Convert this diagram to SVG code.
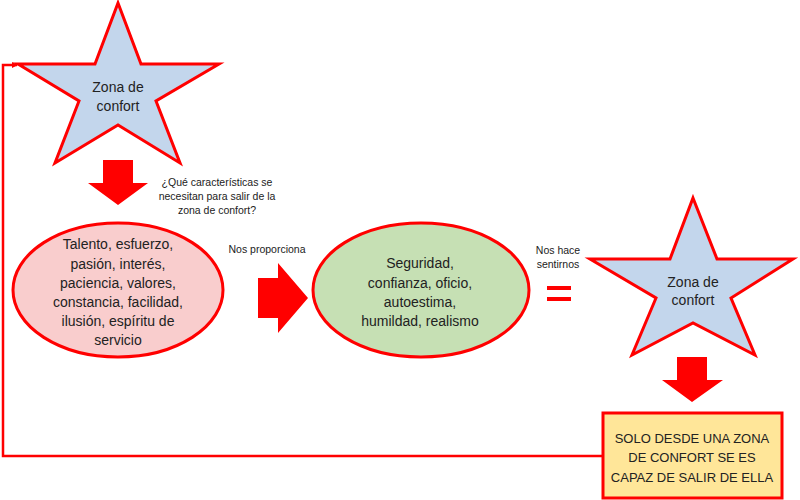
<svg xmlns="http://www.w3.org/2000/svg" width="800" height="500" viewBox="0 0 800 500">
<defs>
<style>
.star{fill:#C3D6EC;stroke:#FF0000;stroke-width:3;stroke-linejoin:miter}
.t{font-family:"Liberation Sans",Arial,sans-serif;fill:#222;text-anchor:middle}
.big{font-size:14px}
.boxt{font-size:13px}
.small{font-size:10.5px}
.arrow{fill:#FF0000}
.conn{fill:none;stroke:#FF0000;stroke-width:2.5}
</style>
<marker id="ah" markerWidth="6" markerHeight="6" refX="5" refY="3" orient="auto" markerUnits="userSpaceOnUse">
<path d="M0,0 L6,3 L0,6 z" fill="#FF0000"/>
</marker>
</defs>
<rect width="800" height="500" fill="#FFFFFF"/>
<g id="connectors">
<polyline class="conn" points="603,456 3,456 3,65 17,65" marker-end="url(#ah)"/>
<path id="arrow-down-1" class="arrow" d="M103,160 H133 V183 H148 L118,205 L88,183 H103 Z"/>
<path id="arrow-right" class="arrow" d="M258,278 H278 V263 L308,298 L278,333 V318 H258 Z"/>
<path id="arrow-down-2" class="arrow" d="M677,357 H707 V380 H723 L692,402 L662,380 H677 Z"/>
<g id="equals" class="arrow">
<rect x="547" y="286" width="24" height="4"/>
<rect x="547" y="297" width="24" height="4"/>
</g>
</g>
<g id="star1">
<polygon class="star" points="118,3 141,64 219,64 156,101 180,163 118,125 55,163 79,101 18,64 95,64"/>
<text class="t big" x="118" y="92">Zona de</text>
<text class="t big" x="118" y="111">confort</text>
</g>
<g id="question">
<text class="t small" x="217" y="186">¿Qué características se</text>
<text class="t small" x="217" y="200">necesitan para salir de la</text>
<text class="t small" x="217" y="214">zona de confort?</text>
</g>
<g id="ellipse1">
<ellipse cx="118" cy="290" rx="105" ry="67" fill="#F9CDCD" stroke="#FF0000" stroke-width="3"/>
<text class="t big" x="118" y="249">Talento, esfuerzo,</text>
<text class="t big" x="118" y="269">pasión, interés,</text>
<text class="t big" x="118" y="288">paciencia, valores,</text>
<text class="t big" x="118" y="307">constancia, facilidad,</text>
<text class="t big" x="118" y="326">ilusión, espíritu de</text>
<text class="t big" x="118" y="345">servicio</text>
</g>
<g id="label-proporciona">
<text class="t small" x="267" y="253">Nos proporciona</text>
</g>
<g id="ellipse2">
<ellipse cx="421" cy="290" rx="108" ry="67" fill="#C6E0B4" stroke="#FF0000" stroke-width="3"/>
<text class="t big" x="420" y="268">Seguridad,</text>
<text class="t big" x="420" y="288">confianza, oficio,</text>
<text class="t big" x="420" y="307">autoestima,</text>
<text class="t big" x="420" y="326">humildad, realismo</text>
</g>
<g id="label-sentirnos">
<text class="t small" x="558" y="254">Nos hace</text>
<text class="t small" x="558" y="268">sentirnos</text>
</g>
<g id="star2">
<polygon class="star" points="693,198 717,259 793,259 731,298 755,355 693,323 632,355 656,298 590,259 670,259"/>
<text class="t big" x="693" y="287">Zona de</text>
<text class="t big" x="693" y="305">confort</text>
</g>
<g id="box">
<rect x="603" y="413" width="179" height="85" fill="#FFE699" stroke="#FF0000" stroke-width="3"/>
<text class="t boxt" x="692" y="443">SOLO DESDE UNA ZONA</text>
<text class="t boxt" x="692" y="462">DE CONFORT SE ES</text>
<text class="t boxt" x="692" y="482">CAPAZ DE SALIR DE ELLA</text>
</g>
</svg>
